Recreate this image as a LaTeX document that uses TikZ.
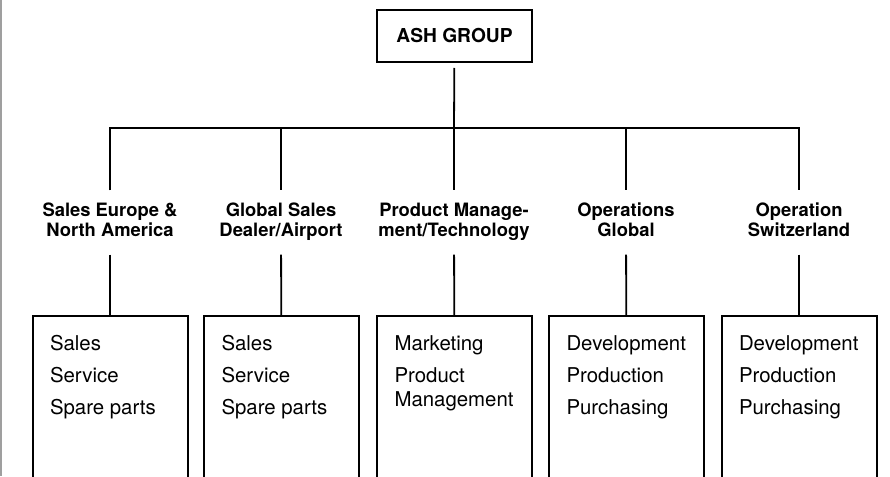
\documentclass[tikz,border=0pt]{standalone}
\usepackage{fontspec}
\setmainfont{TeX Gyre Heros}
% list of sub-units, set flush left at the top of a unit box
\newcommand{\unitlist}[1]{\parbox[t][150pt][t]{120pt}{\raggedright #1}}
\begin{document}
\begin{tikzpicture}[x=1pt,y=-1pt,
  boxline/.style={draw=black,line width=2pt},
  topbox/.style={boxline,minimum width=155pt,minimum height=52pt,inner sep=0pt,
    font=\bfseries\fontsize{19.2}{22}\selectfont},
  head/.style={align=center,minimum height=64pt,inner sep=0pt,
    font=\bfseries\fontsize{18.4}{20}\selectfont},
  unitbox/.style={boxline,anchor=north,inner xsep=17.5pt,inner ysep=19.5pt,
    font=\fontsize{20.4}{24}\selectfont},
  link/.style={draw=black,line width=1.8pt}]
\useasboundingbox (0,0) rectangle (890,476);

% page edge rule
\draw[gray!75,line width=2pt] (1,0) -- (1,476);

% group head
\node[topbox] (ash) at (454.5,36) {ASH GROUP};

% division headings (struts keep the baselines equal in every column)
\node[head] (h1) at (110,222.5) {\strut Sales Europe \&\\\strut North America};
\node[head] (h2) at (281,222.5) {\strut Global Sales\\\strut Dealer/Airport};
\node[head] (h3) at (454,222.5) {\strut Product Manage-\\\strut ment/Technology};
\node[head] (h4) at (626,222.5) {\strut Operations\\\strut Global};
\node[head] (h5) at (799,222.5) {\strut Operation\\\strut Switzerland};

% junctions on the distribution bar
\coordinate (j1) at (110,128);
\coordinate (j2) at (281,128);
\coordinate (j3) at (454,128);
\coordinate (j4) at (626,128);
\coordinate (j5) at (799,128);

% unit boxes, open at the lower page edge
\begin{scope}
\clip (0,0) rectangle (890,476);
\node[unitbox] (u1) at (110,315) {\unitlist{Sales\\[8pt]Service\\[8pt]Spare parts}};
\node[unitbox] (u2) at (281.5,315) {\unitlist{Sales\\[8pt]Service\\[8pt]Spare parts}};
\node[unitbox] (u3) at (454.5,315) {\unitlist{Marketing\\[8pt]Product\\Management}};
\node[unitbox] (u4) at (626.5,315) {\unitlist{Development\\[8pt]Production\\[8pt]Purchasing}};
\node[unitbox] (u5) at (799,315) {\unitlist{Development\\[8pt]Production\\[8pt]Purchasing}};
\end{scope}

% connectors
\draw[link,shorten <=5pt] (ash) -- (j3);
\draw[link] (h1) -- (j1) -- (j5) -- (h5);
\draw[link] (j2) -- (h2);
\draw[link] (j3) -- (h3);
\draw[link] (j4) -- (h4);
\draw[link] (h1) -- (u1);
\draw[link] (h2) -- (u2);
\draw[link] (h3) -- (u3);
\draw[link] (h4) -- (u4);
\draw[link] (h5) -- (u5);
\end{tikzpicture}
\end{document}
